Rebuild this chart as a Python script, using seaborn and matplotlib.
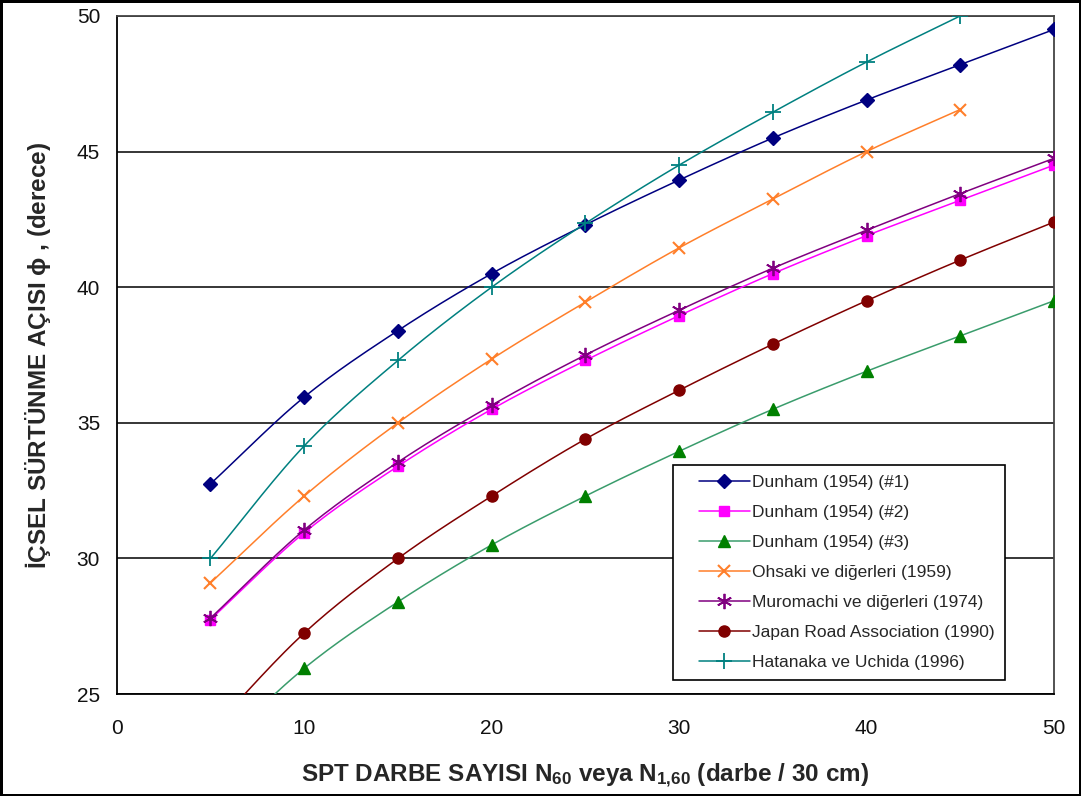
import numpy as np
import matplotlib
matplotlib.use("Agg")
import matplotlib.pyplot as plt
from matplotlib.lines import Line2D
from matplotlib.legend_handler import HandlerLine2D
import seaborn as sns

# ---- data ----
N = [5, 10, 15, 20, 25, 30, 35, 40, 45, 50]
N45 = [5, 10, 15, 20, 25, 30, 35, 40, 45]
dunham1 = [32.75, 35.95, 38.4, 40.5, 42.3, 43.95, 45.5, 46.9, 48.2, 49.5]
dunham2 = [27.75, 30.95, 33.4, 35.5, 37.3, 38.95, 40.5, 41.9, 43.2, 44.5]
dunham3 = [22.75, 25.95, 28.4, 30.5, 32.3, 33.95, 35.5, 36.9, 38.2, 39.5]
ohsaki = [29.1, 32.3, 35.0, 37.35, 39.45, 41.45, 43.25, 45.0, 46.55]
muromachi = [27.8, 31.05, 33.55, 35.65, 37.5, 39.15, 40.7, 42.1, 43.45, 44.75]
japan = [23.65, 27.25, 30.0, 32.3, 34.4, 36.2, 37.9, 39.5, 41.0, 42.4]
hatanaka = [30.0, 34.15, 37.3, 40.0, 42.35, 44.5, 46.45, 48.3, 50.0]

labels = ["Dunham (1954) (#1)", "Dunham (1954) (#2)", "Dunham (1954) (#3)",
          "Ohsaki ve diğerleri (1959)", "Muromachi ve diğerleri (1974)",
          "Japan Road Association (1990)", "Hatanaka ve Uchida (1996)"]
xs_list = [N, N, N, N45, N, N, N45]
ys_list = [dunham1, dunham2, dunham3, ohsaki, muromachi, japan, hatanaka]

x_ticks = [0, 10, 20, 30, 40, 50]
y_ticks = [25, 30, 35, 40, 45, 50]

# ---- style ----
sns.set_style("white")
plt.rcParams['font.family'] = ['Liberation Sans', 'DejaVu Sans']
plt.rcParams['mathtext.fontset'] = 'custom'
plt.rcParams['mathtext.rm'] = 'Liberation Sans:bold'
plt.rcParams['mathtext.it'] = 'Liberation Sans:bold'
plt.rcParams['mathtext.bf'] = 'Liberation Sans:bold'

line_colors = ['#000080', '#FF00FF', '#3A9C6C', '#FF7F2A', '#800080', '#800000', '#008080']
marker_colors = ['#000080', '#FF00FF', '#008000', '#FF7F2A', '#800080', '#800000', '#008080']
markers = ['D', 's', '^', 'x', (6, 2, 0), 'o', '+']
msizes = [7, 7, 9, 9, 11, 8, 11]
mews = [1, 1, 1, 1.5, 1.3, 1, 1.3]


def smooth(x, y, n=24):
    """Catmull-Rom style smoothing for the drawn curve (rendering only)."""
    x = np.asarray(x, float)
    y = np.asarray(y, float)
    px = np.concatenate([[2 * x[0] - x[1]], x, [2 * x[-1] - x[-2]]])
    py = np.concatenate([[2 * y[0] - y[1]], y, [2 * y[-1] - y[-2]]])
    ox, oy = [], []
    t = np.linspace(0, 1, n, endpoint=False)
    for i in range(1, len(px) - 2):
        p0, p1, p2, p3 = [(px[j], py[j]) for j in (i - 1, i, i + 1, i + 2)]
        for k, arr in ((0, ox), (1, oy)):
            a0, a1, a2, a3 = p0[k], p1[k], p2[k], p3[k]
            v = 0.5 * ((2 * a1) + (-a0 + a2) * t + (2 * a0 - 5 * a1 + 4 * a2 - a3) * t ** 2
                       + (-a0 + 3 * a1 - 3 * a2 + a3) * t ** 3)
            arr.extend(v)
    ox.append(x[-1])
    oy.append(y[-1])
    return np.array(ox), np.array(oy)


fig = plt.figure(figsize=(10.81, 7.96), dpi=100)
fig.patch.set_facecolor('white')
fig.patch.set_edgecolor('black')
fig.patch.set_linewidth(2.5)
ax = fig.add_axes([0.108, 0.128, 0.867, 0.852])

for i in range(len(labels)):
    sx, sy = smooth(xs_list[i], ys_list[i])
    sns.lineplot(x=sx, y=sy, ax=ax, color=line_colors[i], lw=1.1,
                 sort=False, estimator=None, legend=False, zorder=3 + i)
    ax.plot(xs_list[i], ys_list[i], linestyle='none', marker=markers[i],
            markersize=msizes[i], color=marker_colors[i], mec=marker_colors[i],
            mew=mews[i], zorder=3 + i)

ax.set_xlim(0, 50)
ax.set_ylim(25, 50)
ax.set_xticks(x_ticks)
ax.set_yticks(y_ticks)
ax.yaxis.grid(True, color='black', lw=1.1)
ax.xaxis.grid(False)
ax.set_axisbelow(True)
for s in ['left', 'bottom']:
    ax.spines[s].set_color('black')
    ax.spines[s].set_linewidth(1.3)
for s in ['top', 'right']:
    ax.spines[s].set_color('#444444')
    ax.spines[s].set_linewidth(1.3)
ax.tick_params(axis='both', direction='inout', length=10, width=1.2,
               color='black', labelsize=15, labelcolor='#111111')
ax.tick_params(axis='x', pad=13)
ax.tick_params(axis='y', pad=7)

ax.set_xlabel(r"SPT DARBE SAYISI N$_{60}$ veya N$_{1{,}60}$ (darbe / 30 cm)",
              fontsize=17.5, fontweight='bold', labelpad=17)
ax.set_ylabel("İÇSEL SÜRTÜNME AÇISI $\\mathregular{\\phi}$ , (derece)",
              fontsize=17.5, fontweight='bold', labelpad=17)

handles = [Line2D([0], [0], color=line_colors[i], lw=1.1, marker=markers[i],
                  markersize=msizes[i], markerfacecolor=marker_colors[i],
                  markeredgecolor=marker_colors[i], mew=mews[i])
           for i in range(len(labels))]
leg = ax.legend(handles, labels, loc='lower left', bbox_to_anchor=(0.593, 0.021),
                fontsize=12.5, frameon=True, fancybox=False, edgecolor='black',
                framealpha=1, handlelength=3.9, handletextpad=0.15,
                labelspacing=0.86, borderpad=0.55, borderaxespad=0,
                handler_map={Line2D: HandlerLine2D(xpad=0.95)})
leg.get_frame().set_linewidth(1.2)
leg.set_zorder(20)

fig.savefig("out.png", dpi=100, facecolor='white', edgecolor=fig.get_edgecolor())
